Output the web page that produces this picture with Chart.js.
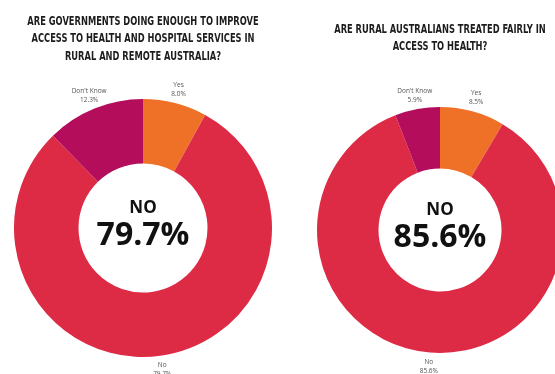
<!DOCTYPE html>
<html>
<head>
<meta charset="utf-8">
<script src="https://cdn.jsdelivr.net/npm/chart.js@4/dist/chart.umd.min.js"></script>
<style>
  html, body { margin: 0; padding: 0; background: #ffffff; }
  body { width: 555px; height: 374px; overflow: hidden; position: relative; }
  .box { position: absolute; }
  #boxA { left: 0; top: 0; width: 286px; height: 374px; }
  #boxB { left: 290px; top: 0; width: 300px; height: 374px; }
</style>
</head>
<body>
<div class="box" id="boxA"><canvas id="chartA"></canvas></div>
<div class="box" id="boxB"><canvas id="chartB"></canvas></div>
<script>
// Survey answers, drawn clockwise from 12 o'clock
const categories = ["Yes", "No", "Don't Know"];
const governmentsValues = [8.0, 79.7, 12.3];
const fairlyValues = [8.5, 85.6, 5.9];
const governmentsTitle = [
  "ARE GOVERNMENTS DOING ENOUGH TO IMPROVE",
  "ACCESS TO HEALTH AND HOSPITAL SERVICES IN",
  "RURAL AND REMOTE AUSTRALIA?"
];
const fairlyTitle = [
  "ARE RURAL AUSTRALIANS TREATED FAIRLY IN",
  "ACCESS TO HEALTH?"
];
const highlightLabel = "NO";
const highlightIndex = 1;

const sliceColors = ["#EE7127", "#DE2B45", "#B30D5C"];

// Condensed heading lines above each ring
const headline = {
  id: 'headline',
  afterDraw(chart, args, opts) {
    const ctx = chart.ctx;
    const cx = (chart.chartArea.left + chart.chartArea.right) / 2;
    ctx.save();
    ctx.fillStyle = '#1c1c1c';
    ctx.textAlign = 'center';
    ctx.textBaseline = 'middle';
    ctx.font = 'bold 11px "DejaVu Sans Condensed", "DejaVu Sans", sans-serif';
    opts.lines.forEach((line, i) => {
      ctx.save();
      ctx.translate(cx, opts.top + i * opts.lineHeight);
      ctx.scale(opts.scaleX, 1.05);
      ctx.fillText(line, 0, 0);
      ctx.restore();
    });
    ctx.restore();
  }
};

// Big figure in the hole of the ring
const centerText = {
  id: 'centerText',
  afterDatasetsDraw(chart) {
    const arc = chart.getDatasetMeta(0).data[0];
    if (!arc) return;
    const { x, y } = arc.getProps(['x', 'y'], true);
    const value = chart.data.datasets[0].data[highlightIndex];
    const ctx = chart.ctx;
    ctx.save();
    ctx.fillStyle = '#111111';
    ctx.textAlign = 'center';
    ctx.textBaseline = 'middle';
    ctx.font = '700 17px "Open Sans"';
    ctx.fillText(highlightLabel, x, y - 20);
    ctx.font = '700 32px "Open Sans"';
    ctx.fillText(value.toFixed(1) + '%', x, y + 8);
    ctx.restore();
  }
};

// Small two-line labels just outside each slice
const outsideLabels = {
  id: 'outsideLabels',
  afterDatasetsDraw(chart) {
    const meta = chart.getDatasetMeta(0);
    const values = chart.data.datasets[0].data;
    const ctx = chart.ctx;
    ctx.save();
    ctx.fillStyle = '#555555';
    ctx.textAlign = 'center';
    ctx.textBaseline = 'middle';
    ctx.font = '6.5px "Open Sans"';
    meta.data.forEach((arc, i) => {
      const p = arc.getProps(['x', 'y', 'startAngle', 'endAngle', 'outerRadius'], true);
      const mid = (p.startAngle + p.endAngle) / 2;
      const d = p.outerRadius + 14;
      const lx = p.x + Math.cos(mid) * d;
      const ly = p.y + Math.sin(mid) * d;
      ctx.fillText(chart.data.labels[i], lx, ly - 4.5);
      ctx.fillText(values[i].toFixed(1) + '%', lx, ly + 4.5);
    });
    ctx.restore();
  }
};

function makeChart(id, values, titleLines, padding, titleTop) {
  return new Chart(document.getElementById(id), {
    type: 'doughnut',
    data: {
      labels: categories,
      datasets: [{
        data: values,
        backgroundColor: sliceColors,
        borderWidth: 0
      }]
    },
    options: {
      responsive: true,
      maintainAspectRatio: false,
      animation: false,
      cutout: '50%',
      layout: { padding: padding },
      plugins: {
        legend: { display: false },
        tooltip: { enabled: false },
        title: { display: false },
        headline: { lines: titleLines, top: titleTop, lineHeight: 17.8, scaleX: 0.84 }
      }
    },
    plugins: [headline, centerText, outsideLabels]
  });
}

makeChart('chartA', governmentsValues, governmentsTitle,
  { left: 14, right: 14, top: 99, bottom: 17 }, 21.5);
makeChart('chartB', fairlyValues, fairlyTitle,
  { left: 27, right: 27, top: 107, bottom: 21 }, 29.5);
</script>
</body>
</html>
